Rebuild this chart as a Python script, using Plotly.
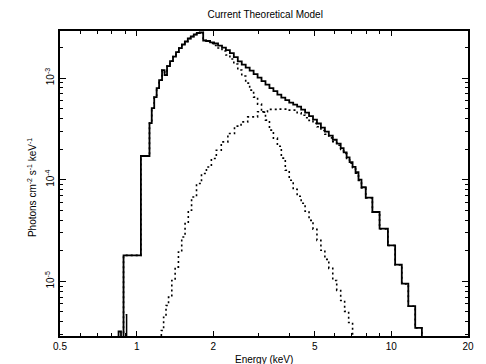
import plotly.graph_objects as go
import math

FLOOR = 1e-7  # model below plotted range

# Total model (step histogram: left bin edge energies in keV, photons cm^-2 s^-1 keV^-1)
total_energy = [0.50, 0.849, 0.868, 0.888, 1.039, 1.123, 1.146, 1.172, 1.198, 1.225,
                1.258, 1.287, 1.316, 1.352, 1.389, 1.427, 1.465, 1.505, 1.546, 1.588,
                1.631, 1.676, 1.722, 1.769, 1.825, 1.874, 1.942, 2.013, 2.087, 2.163,
                2.241, 2.323, 2.407, 2.495, 2.586, 2.680, 2.778, 2.879, 2.984, 3.092,
                3.205, 3.322, 3.443, 3.569, 3.699, 3.834, 3.973, 4.118, 4.268, 4.424,
                4.585, 4.752, 4.925, 5.104, 5.290, 5.483, 5.682, 5.889, 6.103, 6.326,
                6.497, 6.675, 6.856, 7.044, 7.236, 7.431, 7.635, 7.934, 8.426, 8.992,
                9.694, 10.35, 10.99, 11.66, 12.41, 13.18]
total_flux = [FLOOR, 3.21e-6, FLOOR, 1.80e-5, 1.71e-4, 3.60e-4, 5.06e-4, 6.49e-4, 7.96e-4, 9.54e-4,
              1.197e-3, 1.069e-3, 1.311e-3, 1.468e-3, 1.626e-3, 1.801e-3, 1.972e-3, 2.135e-3, 2.285e-3, 2.446e-3,
              2.560e-3, 2.679e-3, 2.771e-3, 2.803e-3, 2.338e-3, 2.311e-3, 2.244e-3, 2.184e-3, 2.087e-3, 1.994e-3,
              1.884e-3, 1.760e-3, 1.608e-3, 1.458e-3, 1.356e-3, 1.267e-3, 1.184e-3, 1.094e-3, 1.010e-3, 9.33e-4,
              8.62e-4, 7.96e-4, 7.43e-4, 6.87e-4, 6.42e-4, 6.06e-4, 5.73e-4, 5.47e-4, 5.23e-4, 4.89e-4,
              4.56e-4, 4.22e-4, 3.90e-4, 3.57e-4, 3.25e-4, 2.97e-4, 2.71e-4, 2.47e-4, 2.26e-4, 2.04e-4,
              1.86e-4, 1.66e-4, 1.49e-4, 1.334e-4, 1.183e-4, 1.00e-4, 8.42e-5, 6.67e-5, 4.81e-5, 3.30e-5,
              2.26e-5, 1.458e-5, 9.48e-6, 5.70e-6, 3.49e-6, FLOOR]

# Component 1 (soft component, dotted)
comp1_energy = [0.50, 0.888, 1.039, 1.123, 1.146, 1.172, 1.198, 1.225, 1.258, 1.287,
                1.316, 1.352, 1.389, 1.427, 1.465, 1.505, 1.546, 1.588, 1.631, 1.676,
                1.722, 1.769, 1.825, 1.874, 1.942, 2.013, 2.087, 2.163, 2.241, 2.323,
                2.407, 2.495, 2.586, 2.680, 2.778, 2.879, 2.984, 3.092, 3.205, 3.322,
                3.443, 3.569, 3.699, 3.834, 3.973, 4.118, 4.268, 4.424, 4.585, 4.752,
                4.925, 5.104, 5.290, 5.483, 5.682, 5.889, 6.103, 6.326, 6.556, 6.799, 7.044]
comp1_flux = [FLOOR, 1.80e-5, 1.71e-4, 3.60e-4, 5.06e-4, 6.49e-4, 7.96e-4, 9.54e-4, 1.197e-3, 1.069e-3,
              1.311e-3, 1.468e-3, 1.626e-3, 1.801e-3, 1.972e-3, 2.135e-3, 2.285e-3, 2.446e-3, 2.560e-3, 2.679e-3,
              2.771e-3, 2.803e-3, 2.338e-3, 2.285e-3, 2.184e-3, 2.087e-3, 1.972e-3, 1.842e-3, 1.682e-3, 1.537e-3,
              1.372e-3, 1.197e-3, 1.045e-3, 8.91e-4, 7.60e-4, 6.49e-4, 5.54e-4, 4.62e-4, 3.85e-4, 3.07e-4,
              2.56e-4, 2.13e-4, 1.63e-4, 1.238e-4, 9.86e-5, 8.05e-5, 6.86e-5, 5.86e-5, 4.89e-5, 3.98e-5,
              3.25e-5, 2.53e-5, 2.02e-5, 1.645e-5, 1.341e-5, 1.021e-5, 8.14e-6, 6.49e-6, 5.06e-6, 3.94e-6, FLOOR]

# Component 2 (hard component, dotted)
comp2_energy = [0.50, 1.250, 1.276, 1.304, 1.334, 1.374, 1.416, 1.459, 1.503, 1.549,
                1.595, 1.643, 1.718, 1.797, 1.879, 1.965, 2.055, 2.149, 2.281, 2.422,
                2.570, 2.729, 2.984, 3.263, 3.569, 3.903, 4.268, 4.424, 4.585, 4.752,
                4.925, 5.104, 5.290, 5.483, 5.682, 5.889, 6.103, 6.326, 6.497, 6.675,
                6.856, 7.044, 7.236, 7.431, 7.635, 7.934, 8.426, 8.992, 9.694, 10.35,
                10.99, 11.66, 12.41, 13.18]
comp2_flux = [FLOOR, 3.28e-6, 4.44e-6, 5.79e-6, 6.99e-6, 1.021e-5, 1.381e-5, 1.941e-5, 2.73e-5, 3.70e-5,
              5.00e-5, 6.76e-5, 9.16e-5, 1.149e-4, 1.334e-4, 1.615e-4, 1.950e-4, 2.353e-4, 2.848e-4, 3.36e-4,
              3.70e-4, 4.15e-4, 4.65e-4, 4.91e-4, 4.94e-4, 4.83e-4, 4.56e-4, 4.30e-4, 4.07e-4, 3.82e-4,
              3.58e-4, 3.32e-4, 3.05e-4, 2.80e-4, 2.58e-4, 2.37e-4, 2.18e-4, 1.98e-4, 1.81e-4, 1.62e-4,
              1.45e-4, 1.31e-4, 1.16e-4, 9.8e-5, 8.3e-5, 6.6e-5, 4.78e-5, 3.28e-5, 2.25e-5, 1.45e-5,
              9.45e-6, 5.68e-6, 3.48e-6, FLOOR]

# small low-energy fragment near 0.91 keV
frag_energy = [0.905, 0.913, 0.913]
frag_flux = [4.7e-6, 4.7e-6, FLOOR]

E_MIN, E_MAX = 0.5, 20.0
F_MIN, F_MAX = 2.9e-6, 2.9e-3

x_tickvals = [0.5, 1, 2, 5, 10, 20]
x_ticktext = ["0.5", "1", "2", "5", "10", "20"]
x_minor = [0.6, 0.7, 0.8, 0.9, 3, 4, 6, 7, 8, 9]
y_tickvals = [1e-5, 1e-4, 1e-3]
y_ticktext = ["10<sup>-5</sup>", "10<sup>-4</sup>", "10<sup>-3</sup>"]
y_minor = [3e-6, 4e-6, 5e-6, 6e-6, 7e-6, 8e-6, 9e-6,
           2e-5, 3e-5, 4e-5, 5e-5, 6e-5, 7e-5, 8e-5, 9e-5,
           2e-4, 3e-4, 4e-4, 5e-4, 6e-4, 7e-4, 8e-4, 9e-4, 2e-3]

fig = go.Figure()

def step_trace(energy, flux, dash, width):
    return go.Scatter(x=energy + [E_MAX], y=flux + [flux[-1]], mode="lines",
                      line=dict(shape="hv", color="black", width=width, dash=dash),
                      hoverinfo="skip")

fig.add_trace(step_trace(comp1_energy, comp1_flux, "2px,3px", 1.6))
fig.add_trace(step_trace(comp2_energy, comp2_flux, "2px,3px", 1.6))
fig.add_trace(go.Scatter(x=frag_energy, y=frag_flux, mode="lines",
                         line=dict(color="black", width=1.5), hoverinfo="skip"))
fig.add_trace(step_trace(total_energy, total_flux, "solid", 1.8))

font = "Liberation Sans, Arial, Helvetica, sans-serif"
axis_common = dict(type="log", showline=True, linecolor="black", linewidth=1.6,
                   mirror="allticks", ticks="inside", tickcolor="black", tickwidth=1.2,
                   showgrid=False, zeroline=False,
                   tickfont=dict(family=font, size=10, color="black"))

fig.update_xaxes(**axis_common, range=[math.log10(E_MIN), math.log10(E_MAX)],
                 tickmode="array", tickvals=x_tickvals, ticktext=x_ticktext, ticklen=5,
                 minor=dict(tickmode="array", tickvals=x_minor, ticks="inside",
                            ticklen=3.5, tickcolor="black", tickwidth=1.2))
fig.update_yaxes(**axis_common, range=[math.log10(F_MIN), math.log10(F_MAX)],
                 tickmode="array", tickvals=y_tickvals, ticktext=y_ticktext, ticklen=6,
                 tickangle=-90,
                 minor=dict(tickmode="array", tickvals=y_minor, ticks="inside",
                            ticklen=3.5, tickcolor="black", tickwidth=1.2))

# The page body adds an 8px offset, so the figure is sized to fit the window.
fig.update_layout(
    width=478, height=356,
    margin=dict(l=52, r=13, t=23, b=28, pad=0),
    paper_bgcolor="white", plot_bgcolor="white",
    showlegend=False,
    font=dict(family=font, size=10, color="black"),
    title=dict(text="Current Theoretical Model", x=0.538, xanchor="center",
               y=0.982, yanchor="middle", font=dict(family=font, size=10, color="black")),
    annotations=[
        dict(text="Energy (keV)", xref="paper", yref="paper", x=0.5, y=0,
             xanchor="center", yanchor="middle", yshift=-23, showarrow=False,
             font=dict(family=font, size=10, color="black")),
        dict(text="Photons cm<sup>-2</sup> s<sup>-1</sup> keV<sup>-1</sup>", xref="paper", yref="paper",
             x=0, y=0.485, xanchor="center", yanchor="middle", xshift=-28, textangle=-90,
             showarrow=False, font=dict(family=font, size=10, color="black")),
    ],
)

fig.write_html("out.html")
